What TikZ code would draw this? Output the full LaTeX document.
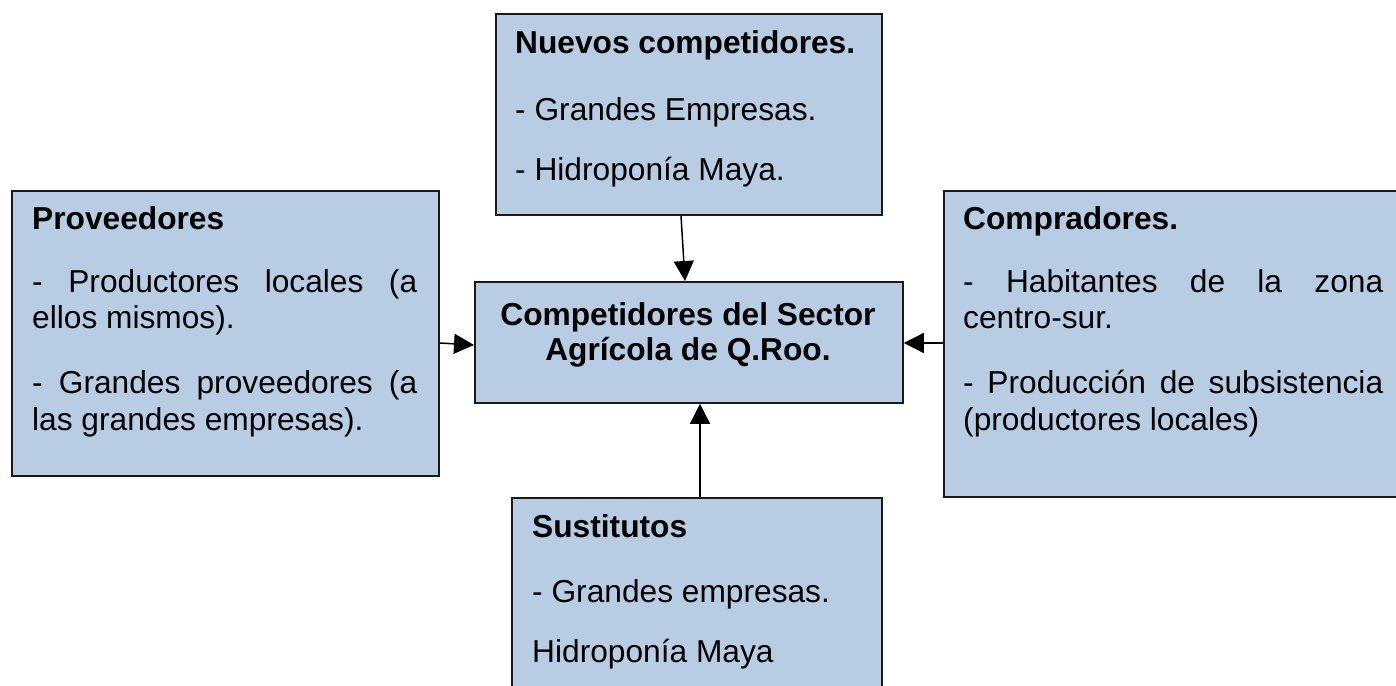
\documentclass[tikz,border=0pt]{standalone}
\usepackage{fontspec}
\setmainfont{Liberation Sans}
\usetikzlibrary{arrows.meta,calc}
\definecolor{boxfill}{HTML}{B8CCE4}
\definecolor{boxline}{HTML}{1A1A1A}
\tikzset{
  box/.style={draw=boxline, fill=boxfill, line width=1.8pt, rectangle, inner sep=0pt, anchor=north west},
  txt/.style={inner sep=0pt, anchor=base west, font=\fontsize{31.7}{36.5}\selectfont},
  ctxt/.style={inner sep=0pt, anchor=base, font=\fontsize{31.7}{36.5}\selectfont\bfseries},
  conn/.style={line width=1.5pt, -{Triangle[length=20pt,width=20pt]}}
}
\begin{document}
\begin{tikzpicture}[x=1pt,y=-1pt]
\useasboundingbox (0,0) rectangle (1396,685);
\clip (0,0) rectangle (1396,685);
% boxes
\node[box, minimum width=386pt, minimum height=201pt] (nuevos) at (495,13) {};
\node[box, minimum width=427pt, minimum height=285pt] (prov) at (11,190) {};
\node[box, minimum width=428pt, minimum height=121pt] (centro) at (474,281) {};
\node[box, minimum width=470pt, minimum height=306pt] (comp) at (943,190) {};
\node[box, minimum width=370pt, minimum height=220pt] (sust) at (511,497) {};
% top box text
\node[txt, font=\fontsize{31.7}{36.5}\selectfont\bfseries] (n1) at (515,53) {Nuevos competidores.};
\node[txt] (n2) at (515,120) {- Grandes Empresas.};
\node[txt] (n3) at (515,180) {- Hidroponía Maya.};
% left box text
\node[txt, font=\fontsize{31.7}{36.5}\selectfont\bfseries] (p1) at (32,229) {Proveedores};
\node[txt] (p2) at (32,292) {\makebox[385pt][s]{- Productores locales (a}};
\node[txt] (p3) at (32,328) {ellos mismos).};
\node[txt] (p4) at (32,393) {\makebox[385pt][s]{- Grandes proveedores (a}};
\node[txt] (p5) at (32,430) {las grandes empresas).};
% right box text
\node[txt, font=\fontsize{31.7}{36.5}\selectfont\bfseries] (c1) at (963,229) {Compradores.};
\node[txt] (c2) at (963,292) {\makebox[420pt][s]{- Habitantes de la zona}};
\node[txt] (c3) at (963,328) {centro-sur.};
\node[txt] (c4) at (963,393) {\makebox[420pt][s]{- Producción de subsistencia}};
\node[txt] (c5) at (963,430) {(productores locales)};
% center text
\node[ctxt] (m1) at (688,325) {Competidores del Sector};
\node[ctxt] (m2) at (688,360) {Agrícola de Q.Roo.};
% bottom box text
\node[txt, font=\fontsize{31.7}{36.5}\selectfont\bfseries] (s1) at (532,537) {Sustitutos};
\node[txt] (s2) at (532,602) {- Grandes empresas.};
\node[txt] (s3) at (532,662) {Hidroponía Maya};
% connectors
\draw[conn] ($(nuevos.south west)+(186,0)$) -- ($(centro.north west)+(211,0)$);
\draw[conn] ($(prov.north east)+(0,153)$) -- ($(centro.north west)+(0,64)$);
\draw[conn] ($(comp.north west)+(0,153)$) -- ($(centro.north east)+(0,62)$);
\draw[conn] ($(sust.north west)+(189,0)$) -- ($(centro.south west)+(226,0)$);
\end{tikzpicture}
\end{document}
